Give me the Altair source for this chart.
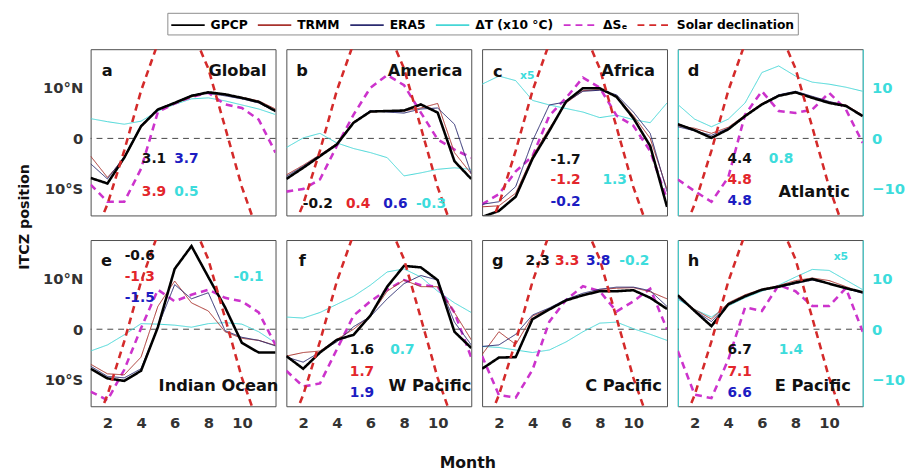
import altair as alt
import pandas as pd

months = list(range(1, 13))
panel_ids = ["a", "b", "c", "d", "e", "f", "g", "h"]
regions = ["Global", "America", "Africa", "Atlantic",
           "Indian Ocean", "W Pacific", "C Pacific", "E Pacific"]

solar_declination = [-21.0, -13.0, -2.4, 9.4, 18.8, 23.3, 21.5, 13.8, 2.2, -9.6, -19.0, -23.3]

gpcp = {
    "a": [-7.8, -8.9, -3.8, 2.4, 5.7, 7.0, 8.4, 9.1, 8.7, 8.0, 7.2, 5.4],
    "b": [-8.0, -5.8, -3.5, -1.2, 3.1, 5.3, 5.4, 5.5, 6.7, 5.1, -4.5, -8.0],
    "c": [-15.5, -14.3, -11.5, -4.0, 1.5, 7.3, 9.9, 9.9, 8.2, 4.0, -1.5, -13.5],
    "d": [2.8, 1.6, 0.1, 1.8, 4.4, 6.7, 8.4, 9.1, 8.0, 7.0, 6.4, 4.4],
    "e": [-7.8, -9.7, -10.2, -8.2, 0.4, 11.9, 16.4, 10.3, 4.3, -2.7, -4.6, -4.6],
    "f": [-5.3, -7.8, -4.6, -2.1, -1.1, 2.7, 8.4, 12.5, 12.2, 9.7, -0.5, -3.7],
    "g": [-7.8, -5.6, -5.5, 2.0, 3.9, 5.7, 6.7, 7.5, 7.5, 7.7, 6.2, 4.0],
    "h": [6.7, 3.6, 0.6, 4.9, 6.5, 7.8, 8.4, 9.2, 9.9, 9.0, 8.1, 7.3],
}
trmm = {
    "a": [-3.5, -7.7, -4.0, 2.2, 5.6, 6.9, 8.2, 9.0, 8.6, 8.1, 7.4, 5.8],
    "b": [-7.2, -5.3, -3.2, -1.0, 3.3, 5.2, 5.4, 5.4, 6.0, 6.9, -2.8, -7.0],
    "c": [-13.5, -13.3, -10.8, -3.5, 2.0, 7.0, 9.4, 9.6, 8.3, 4.5, 0.0, -10.0],
    "d": [2.5, 2.0, 1.0, 2.2, 4.6, 6.9, 8.5, 9.0, 8.2, 7.2, 6.6, 4.6],
    "e": [-6.9, -8.8, -9.0, -5.5, 4.5, 9.5, 5.2, 3.6, -0.5, -1.8, -2.2, -3.2],
    "f": [-5.3, -4.6, -4.3, -2.0, 0.0, 2.7, 7.5, 9.7, 8.4, 8.4, 3.3, -2.1],
    "g": [-5.0, -0.5, -3.0, 2.6, 4.0, 5.7, 6.7, 7.8, 8.1, 8.2, 7.4, 6.0],
    "h": [6.5, 3.9, 2.0, 5.2, 6.8, 7.9, 8.6, 9.6, 10.1, 9.6, 8.4, 7.2],
}
era5 = {
    "a": [-5.0, -8.0, -3.6, 2.6, 5.8, 7.1, 8.5, 8.9, 8.4, 7.8, 7.0, 5.3],
    "b": [-7.5, -5.5, -3.3, -1.1, 3.2, 5.5, 5.2, 5.0, 5.8, 6.0, 2.8, -7.0],
    "c": [-13.0, -12.5, -9.5, -0.5, 6.6, 7.2, 9.3, 9.5, 8.6, 5.2, 1.0, -10.5],
    "d": [2.3, 1.5, 0.6, 2.0, 4.5, 6.8, 8.6, 9.3, 8.3, 7.3, 6.5, 4.5],
    "e": [-7.3, -9.3, -9.6, -7.8, 0.5, 8.8, 6.0, 7.2, -0.3, -1.6, -2.2, -3.3],
    "f": [-5.5, -6.5, -4.5, -2.5, 0.5, 2.5, 6.0, 9.0, 10.6, 9.7, 1.4, -3.1],
    "g": [-3.4, -3.1, -1.0, 2.8, 4.2, 5.9, 7.1, 7.9, 8.3, 8.3, 7.6, 4.5],
    "h": [6.2, 3.7, 1.5, 5.0, 6.6, 7.7, 8.3, 9.0, 9.7, 9.0, 8.0, 7.1],
}
delta_t = {
    "a": [3.9, 3.3, 2.8, 3.4, 5.4, 6.7, 7.8, 8.0, 7.4, 6.6, 5.8, 4.7],
    "b": [-1.8, 0.1, 1.0, -0.9, -2.0, -2.8, -3.8, -7.4, -6.8, -6.1, -5.8, -6.1],
    "c": [10.7, 12.3, 11.4, 7.5, 6.6, 5.9, 5.2, 4.1, 4.6, 3.7, 3.1, 7.0],
    "d": [6.7, 3.8, 2.3, 3.8, 7.0, 13.0, 14.3, 12.3, 11.1, 10.7, 10.1, 9.3],
    "e": [-4.3, -3.1, -1.1, 1.1, 1.0, 0.8, 0.4, 1.1, 1.3, 1.0, -0.5, -2.7],
    "f": [2.4, 2.2, 3.3, 4.9, 6.5, 8.7, 11.3, 11.9, 10.3, 7.5, 5.2, 3.3],
    "g": [-3.4, -3.6, -4.1, -4.6, -4.1, -2.5, -0.5, 1.2, 1.4, 0.1, -1.0, -2.2],
    "h": [5.9, 3.9, 2.4, 4.6, 6.2, 7.5, 8.7, 10.3, 11.8, 11.6, 9.7, 7.8],
}
delta_se = {
    "a": [-9.1, -12.5, -12.5, -6.0, 5.2, 6.9, 8.2, 9.0, 6.7, 6.0, 3.7, -2.8],
    "b": [-10.5, -10.0, -8.1, -1.5, 4.7, 10.0, 12.5, 10.5, 5.1, -0.2, -2.2, -3.8],
    "c": [-13.0, -11.0, -6.5, -3.5, 4.5, 8.0, 12.0, 10.0, 4.5, 2.5, -2.5, -12.0],
    "d": [-8.1, -10.4, -12.5, -7.7, 4.7, 9.3, 5.4, 5.0, 5.7, 9.0, 5.7, -0.9],
    "e": [-12.3, -14.0, -8.0, 0.2, 7.8, 5.5, 6.8, 7.8, 6.2, 5.5, 3.3, -3.1],
    "f": [-8.2, -11.3, -10.7, -4.0, 2.7, 5.5, 7.8, 9.7, 8.7, 8.4, 3.3, -5.6],
    "g": [-5.3, -13.0, -13.5, -8.0, 1.5, 5.8, 8.5, 7.5, 3.5, 5.5, 8.0, 0.0],
    "h": [-4.3, -12.9, -13.6, -6.0, 4.3, 3.6, 8.7, 7.5, 4.6, 4.6, 8.1, -0.5],
}

# correlation numbers and labels written inside each panel
K, R, B, C = "#111111", "#e3262b", "#1c1cc2", "#3ddcdc"
annotations = [
    # panel, text, month, value, colour, font size, alignment
    ("a", "a", 1.99, 13.3, K, 16.5, "center"), ("a", "Global", 11.47, 13.3, K, 16.5, "right"),
    ("a", "3.1", 4.77, -4.1, K, 14, "center"), ("a", "3.7", 6.70, -4.1, B, 14, "center"),
    ("a", "3.9", 4.77, -10.6, R, 14, "center"), ("a", "0.5", 6.70, -10.6, C, 14, "center"),
    ("b", "b", 1.94, 13.3, K, 16.5, "center"), ("b", "America", 11.47, 13.3, K, 16.5, "right"),
    ("b", "-0.2", 2.87, -12.9, K, 14, "center"), ("b", "0.4", 5.27, -12.9, R, 14, "center"),
    ("b", "0.6", 7.49, -12.9, B, 14, "center"), ("b", "-0.3", 9.6, -12.9, C, 14, "center"),
    ("c", "c", 1.94, 13.1, K, 16.5, "center"), ("c", "x5", 3.69, 12.4, C, 11, "center"),
    ("c", "Africa", 11.29, 13.3, K, 16.5, "right"),
    ("c", "-1.7", 5.97, -4.3, K, 14, "center"), ("c", "-1.2", 5.97, -8.2, R, 14, "center"),
    ("c", "-0.2", 5.97, -12.5, B, 14, "center"), ("c", "1.3", 8.89, -8.2, C, 14, "center"),
    ("d", "d", 1.94, 13.3, K, 16.5, "center"),
    ("d", "4.4", 4.68, -4.1, K, 14, "center"), ("d", "0.8", 7.14, -4.1, C, 14, "center"),
    ("d", "4.8", 4.68, -8.2, R, 14, "center"), ("d", "4.8", 4.68, -12.3, B, 14, "center"),
    ("d", "Atlantic", 11.23, -10.6, K, 16.5, "right"),
    ("e", "e", 1.94, 13.5, K, 16.5, "center"),
    ("e", "-0.6", 3.92, 14.5, K, 14, "center"), ("e", "-1.3", 3.92, 10.2, R, 14, "center"),
    ("e", "-1.5", 3.92, 6.1, B, 14, "center"), ("e", "-0.1", 10.4, 10.2, C, 14, "center"),
    ("e", "Indian Ocean", 12.17, -11.3, K, 16.5, "right"),
    ("f", "f", 1.94, 13.5, K, 16.5, "center"),
    ("f", "1.6", 5.5, -4.1, K, 14, "center"), ("f", "0.7", 7.9, -4.1, C, 14, "center"),
    ("f", "1.7", 5.5, -8.4, R, 14, "center"), ("f", "1.9", 5.5, -12.5, B, 14, "center"),
    ("f", "W Pacific", 12.0, -11.3, K, 16.5, "right"),
    ("g", "g", 1.94, 13.5, K, 16.5, "center"),
    ("g", "2.3", 4.3, 13.5, K, 14, "center"), ("g", "3.3", 6.06, 13.5, R, 14, "center"),
    ("g", "3.8", 7.9, 13.5, B, 14, "center"), ("g", "-0.2", 10.06, 13.5, C, 14, "center"),
    ("g", "C Pacific", 11.7, -11.3, K, 16.5, "right"),
    ("h", "h", 1.94, 13.5, K, 16.5, "center"), ("h", "x5", 10.7, 14.3, C, 11, "center"),
    ("h", "6.7", 4.68, -4.1, K, 14, "center"), ("h", "1.4", 7.73, -4.1, C, 14, "center"),
    ("h", "7.1", 4.68, -8.4, R, 14, "center"), ("h", "6.6", 4.68, -12.5, B, 14, "center"),
    ("h", "E Pacific", 11.29, -11.3, K, 16.5, "right"),
]

SERIES = ["GPCP", "TRMM", "ERA5", "ΔT (x10 °C)", "ΔSₑ", "Solar declination"]
COLORS = ["#000000", "#a8322d", "#2b2b70", "#45d6d6", "#cc33cc", "#d42a2a"]
DASHES = [[1, 0], [1, 0], [1, 0], [1, 0], [7, 5], [7, 5]]
WIDTHS = [2.6, 1.0, 1.0, 1.0, 2.6, 2.6]
DRAW_ORDER = ["ΔT (x10 °C)", "ΔSₑ", "TRMM", "ERA5", "GPCP", "Solar declination"]

series_data = {"GPCP": gpcp, "TRMM": trmm, "ERA5": era5,
               "ΔT (x10 °C)": delta_t, "ΔSₑ": delta_se}

rows = []
for p in panel_ids:
    for s in SERIES:
        vals = solar_declination if s == "Solar declination" else series_data[s][p]
        for m, v in zip(months, vals):
            rows.append({"panel": p, "series": s, "month": m, "value": v,
                         "lw": WIDTHS[SERIES.index(s)]})
df = pd.DataFrame(rows)
ann = pd.DataFrame(annotations, columns=["panel", "text", "month", "value", "color", "size", "halign"])
zero_df = pd.DataFrame({"value": [0.0]})

W, H = 188, 169
X_DOMAIN = [1, 12]
Y_DOMAIN = [-15.2, 17.6]
FONT = "DejaVu Sans"
CYAN = "#3ddcdc"

# legend symbol: a horizontal stroke that starts at the entry's left edge and is
# twice as long as the (small) symbol box, so that the legend row stays low
LEG = alt.Legend(
    title=None, orient="none", legendX=78, legendY=-37, direction="horizontal", columns=6,
    symbolType="M-1,0H3", symbolSize=289, symbolStrokeWidth=2,
    labelFont=FONT, labelFontWeight="bold", labelFontSize=12.5, labelColor="black",
    labelOffset=22, labelLimit=400, columnPadding=6, padding=3, strokeColor="#8c8c8c",
)


def make_panel(i):
    p = panel_ids[i]
    row, col = divmod(i, 4)
    xs = alt.Scale(domain=X_DOMAIN, nice=False, zero=False)
    ys = alt.Scale(domain=Y_DOMAIN, nice=False, zero=False)

    if row == 1:
        xaxis = alt.Axis(values=[2, 4, 6, 8, 10], labelFont=FONT, labelFontSize=15,
                         labelFontWeight="bold", labelColor="#333333", labelPadding=10,
                         ticks=False, domain=False, grid=False,
                         title="Month" if p == "f" else None,
                         titleFont=FONT, titleFontSize=16, titleFontWeight="bold",
                         titleColor="#111111", titleX=184, titleY=62,
                         titleAlign="center", titleBaseline="alphabetic")
    else:
        xaxis = None

    if col == 0:
        yaxis = alt.Axis(values=[-10, 0, 10],
                         labelExpr="datum.value > 0 ? '10°N' : (datum.value < 0 ? '10°S' : '0')",
                         labelFont=FONT, labelFontSize=15, labelFontWeight="bold",
                         labelColor="#333333", labelPadding=8, ticks=False, domain=False,
                         grid=False, title="ITCZ position" if p == "a" else None,
                         titleFont=FONT, titleFontSize=14.5, titleFontWeight="bold",
                         titleColor="#111111", titleAngle=270, titleX=-63, titleY=170,
                         titleAlign="center", titleBaseline="alphabetic")
    elif col == 3:
        yaxis = alt.Axis(values=[-10, 0, 10], labels=False, ticks=False, domain=True,
                         domainColor=CYAN, grid=False, title=None)
    else:
        yaxis = None

    X = lambda: alt.X("month:Q", scale=xs, axis=xaxis)
    Y = lambda: alt.Y("value:Q", scale=ys, axis=yaxis)

    layers = []
    layers.append(
        alt.Chart(zero_df).mark_rule(color="#444444", strokeWidth=1, strokeDash=[6, 5]).encode(y=Y())
    )
    for s in DRAW_ORDER:
        sub = df[(df["panel"] == p) & (df["series"] == s)]
        layers.append(
            alt.Chart(sub).mark_line(clip=True).encode(
                x=X(), y=Y(),
                color=alt.Color("series:N", scale=alt.Scale(domain=SERIES, range=COLORS), legend=LEG),
                strokeDash=alt.StrokeDash("series:N", scale=alt.Scale(domain=SERIES, range=DASHES), legend=LEG),
                strokeWidth=alt.StrokeWidth("lw:Q", scale=None),
            )
        )
    pann = ann[ann["panel"] == p]
    for align in ["center", "right"]:
        sub = pann[pann["halign"] == align]
        if len(sub):
            layers.append(
                alt.Chart(sub).mark_text(font=FONT, fontWeight="bold", align=align,
                                         baseline="middle").encode(
                    x=X(), y=Y(),
                    text="text:N",
                    color=alt.Color("color:N", scale=None),
                    size=alt.Size("size:Q", scale=None),
                )
            )
    main = alt.layer(*layers)
    if col == 3:
        sub = df[(df["panel"] == p) & (df["series"] == "ΔT (x10 °C)")]
        right = alt.Chart(sub).mark_line(opacity=0).encode(
            x=X(),
            y=alt.Y("value:Q", scale=alt.Scale(domain=Y_DOMAIN, nice=False, zero=False),
                    axis=alt.Axis(orient="right", values=[-10, 0, 10], labelFont=FONT,
                                  labelFontSize=15, labelFontWeight="bold", labelColor=CYAN,
                                  labelPadding=9, ticks=False, domain=True, domainColor=CYAN,
                                  grid=False, title=None)),
        )
        main = alt.layer(main, right).resolve_scale(y="independent")
    return main.properties(width=W, height=H)


panels = [make_panel(i) for i in range(8)]

chart = alt.concat(
    *panels, columns=4, spacing=alt.RowColnumber(row=25, column=11), bounds="flush"
).properties(
    padding={"left": 8, "top": 0, "right": 2, "bottom": 0}
).configure_view(
    stroke="#4d4d4d", strokeWidth=1
).configure_axis(
    labelFont=FONT, titleFont=FONT
)

chart.save("out.html", embed_options={"renderer": "svg", "actions": False})
